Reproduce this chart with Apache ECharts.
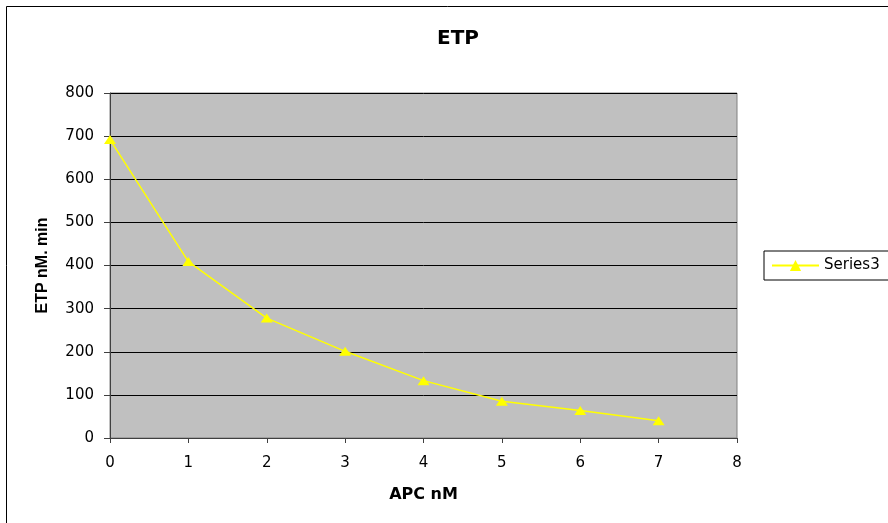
<!DOCTYPE html>
<html><head><meta charset="utf-8">
<script src="https://cdn.jsdelivr.net/npm/echarts@6/dist/echarts.min.js"></script>
<style>html,body{margin:0;padding:0;background:#fff}#c{width:888px;height:523px}</style>
</head><body><div id="c"></div>
<script>
const xValues = [0, 1, 2, 3, 4, 5, 6, 7];
const series3 = [692, 409, 278, 201, 133, 85, 64, 40];
const seriesName = 'Series3';
const titleText = 'ETP';
const xName = 'APC nM';
const yName = 'ETP nM. min';

const chart = echarts.init(document.getElementById('c'));
const F = '"DejaVu Sans", sans-serif';
const FN = '"Liberation Sans", Arial, sans-serif';
chart.setOption({
  animation: false,
  backgroundColor: '#fff',
  graphic: [{
    type: 'rect', z: -1, silent: true,
    shape: { x: 6.5, y: 6.5, width: 1000, height: 1000 },
    style: { fill: 'none', stroke: '#000', lineWidth: 1 }
  }],
  title: {
    text: titleText, left: 453, top: 24, textAlign: 'center',
    textStyle: { fontFamily: F, fontSize: 20, fontWeight: 'bold', color: '#000' }
  },
  legend: {
    left: 764, top: 251, orient: 'vertical',
    padding: [7, 12, 7, 7],
    borderColor: '#000', borderWidth: 1,
    itemWidth: 47, itemHeight: 14, itemGap: 0,
    textStyle: { fontFamily: F, fontSize: 15, color: '#000' },
    data: [seriesName]
  },
  grid: { left: 110, right: 151, top: 93, bottom: 85, show: true, backgroundColor: '#c0c0c0', borderColor: '#808080', borderWidth: 1 },
  xAxis: {
    type: 'value', min: 0, max: 8, interval: 1,
    name: xName, nameLocation: 'middle', nameGap: 49,
    nameTextStyle: { fontFamily: F, fontSize: 16, fontWeight: 'bold', color: '#000' },
    axisLine: { lineStyle: { color: '#404040', width: 1 } },
    axisTick: { show: true, length: 5, lineStyle: { color: '#404040' } },
    axisLabel: { fontFamily: F, fontSize: 15, color: '#000', margin: 18 },
    splitLine: { show: false }
  },
  yAxis: {
    type: 'value', min: 0, max: 800, interval: 100,
    name: yName, nameLocation: 'middle', nameGap: 59, nameRotate: 90,
    nameTextStyle: { fontFamily: FN, fontSize: 16, fontWeight: 'bold', color: '#000' },
    axisLine: { show: true, lineStyle: { color: '#404040', width: 1 } },
    axisTick: { show: true, length: 6, lineStyle: { color: '#404040' } },
    axisLabel: { fontFamily: F, fontSize: 15, color: '#000', margin: 16 },
    splitLine: { show: true, lineStyle: { color: '#000', width: 1 } }
  },
  series: [{
    name: seriesName, type: 'line',
    data: xValues.map((x, i) => [x, series3[i]]),
    symbol: 'triangle', symbolSize: [12, 9],
    itemStyle: { color: '#ffff00' },
    lineStyle: { color: '#ffff00', width: 1.5 }
  }]
});
</script></body></html>
